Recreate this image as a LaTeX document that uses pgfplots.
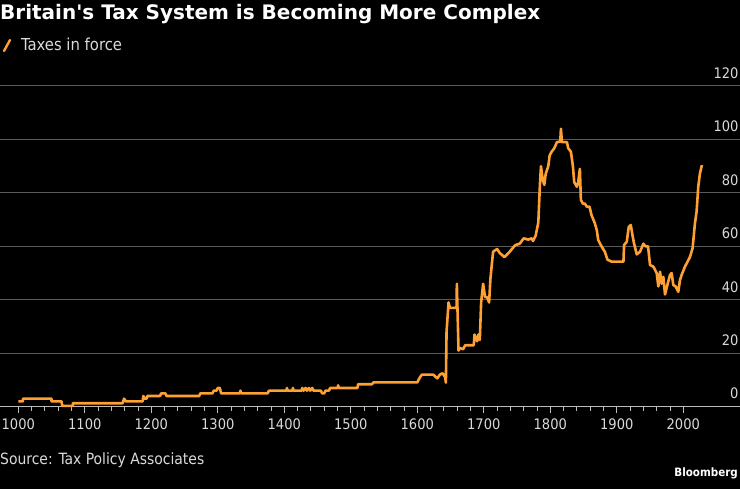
\documentclass[border=0pt]{standalone}
\usepackage{fontspec}
\setmainfont{DejaVu Sans Condensed}
\newfontfamily\titlefont{DejaVu Sans}
\usepackage{pgfplots}
\pgfplotsset{compat=1.18}
\definecolor{tax}{HTML}{FFA033}
\definecolor{gridc}{HTML}{5A5A5A}
\definecolor{axisc}{HTML}{BBBBBB}
\definecolor{lbl}{HTML}{DADADA}
\begin{document}
\begin{tikzpicture}[x=1bp,y=1bp]
\fill[black] (0,0) rectangle (740,489);
\useasboundingbox (0,0) rectangle (740,489);
\begin{axis}[
  at={(0bp,82.3bp)}, anchor=south west,
  scale only axis, width=740bp, height=320.7bp,
  xmin=972.5, xmax=2085.3, ymin=0, ymax=120,
  clip=false,
  axis x line*=bottom, axis y line*=right,
  x axis line style={axisc, line width=1bp},
  y axis line style={draw=none},
  xtick={1000,1100,...,2000},
  minor x tick num=4,
  ytick={0,20,...,120},
  tick align=outside,
  major tick length=6bp, minor tick length=4bp,
  xtick style={axisc, line width=0.8bp},
  ytick style={draw=none},
  ymajorgrids, grid style={gridc, line width=1bp},
  /pgf/number format/assume math mode=true,
  /pgf/number format/set thousands separator={},
  xticklabel style={font=\fontsize{14.5bp}{14.5bp}\selectfont, text=lbl, yshift=-3bp},
  yticklabel style={font=\fontsize{14.5bp}{14.5bp}\selectfont, text=lbl, anchor=south east, xshift=-4bp, yshift=4bp},
]
\addplot[tax, line width=2.6bp, line join=round] coordinates {
(1000,2) (1007,2) (1007,3) (1050,3) (1050,2) (1065,2) (1066,0.3) (1082,0.3) (1082,1.3) (1157,1.3) (1159,3) (1162,2) (1187,2) (1188,4) (1190,3) (1193,3) (1194,4) (1213,4) (1215,5) (1221,5) (1223,4) (1272,4) (1274,5) (1292,5) (1294,6) (1298,6) (1300,7) (1303,7) (1305,5) (1333,5) (1334,6) (1335,5) (1375,5) (1377,6) (1403,6) (1404,7) (1405,6) (1412,6) (1413,7) (1414,6) (1426,6) (1427,7) (1429,6) (1432,7) (1434,6) (1437,7) (1439,6) (1442,7) (1444,6) (1455,6) (1457,5) (1460,5) (1462,6) (1467,6) (1469,7) (1480,7) (1481,8) (1482,7) (1510,7) (1511,8.4) (1532,8.4) (1534,9.1) (1600,9.1) (1604,11) (1607,12) (1624,12) (1630,10.6) (1634,12) (1638,12.5) (1642,11) (1643,9) (1644,28) (1647,39) (1649,37) (1659,37) (1659.5,46) (1662,21) (1664,22) (1669,21.5) (1672,23) (1685,23) (1686,27) (1690,24.5) (1692,27) (1694,25) (1696,39) (1699,46) (1702,41) (1705,41) (1708,39) (1710,48) (1714,58) (1720,59) (1724,57.5) (1731,56) (1739,58) (1747,60.4) (1754,61) (1760,63) (1767,62.5) (1772,63) (1774,62) (1778,64) (1782,69) (1784.5,83.6) (1786,90) (1788.5,85) (1791,83) (1793,87) (1797,90) (1799,94) (1802,95.4) (1806,96.7) (1810,99) (1815,99.2) (1816,104) (1817.5,99) (1825,99) (1827,96.7) (1831,95.4) (1834,90) (1836,84) (1840,82.3) (1842,84) (1844.5,89) (1846,77.4) (1849,76) (1852,76) (1855,74.8) (1859,74.8) (1862,71.7) (1867,68.6) (1870,66) (1872,62.4) (1877,60) (1882,58) (1886,55) (1892,54.3) (1910,54.3) (1911,60.5) (1915,61.7) (1918,67.3) (1921,68) (1924,63.6) (1926,61) (1930,57) (1935,58) (1940,61) (1943,60) (1947,60) (1950,53) (1955,52.4) (1960,50) (1962.5,45) (1965,50.5) (1967.5,46) (1970,48.6) (1972.5,42) (1976,45.5) (1980,49.3) (1982.5,50) (1985,45.5) (1988.5,45) (1992.5,43) (1995,47.4) (1997.5,49.3) (2002.5,52.4) (2010,56) (2014,59.3) (2017.5,68.6) (2020,73) (2022.5,82.3) (2025,87.3) (2028,90.4)
};
\end{axis}
\node[anchor=base west, inner sep=0pt, text=white] at (0,469) {\titlefont\bfseries\fontsize{20bp}{20bp}\selectfont Britain's Tax System is Becoming More Complex};
\draw[tax, line width=2.4bp, line cap=round] (4,438) -- (10,449);
\node[anchor=base west, inner sep=0pt, text=lbl] at (21,438) {\fontsize{16.5bp}{16.5bp}\selectfont Taxes in force};
\node[anchor=base west, inner sep=0pt, text=lbl] at (0,24) {\fontsize{15.5bp}{15.5bp}\selectfont Source: Tax Policy Associates};
\node[anchor=base east, inner sep=0pt, text=white] at (738,12) {\bfseries\fontsize{11.5bp}{11.5bp}\selectfont Bloomberg};
\end{tikzpicture}
\end{document}
